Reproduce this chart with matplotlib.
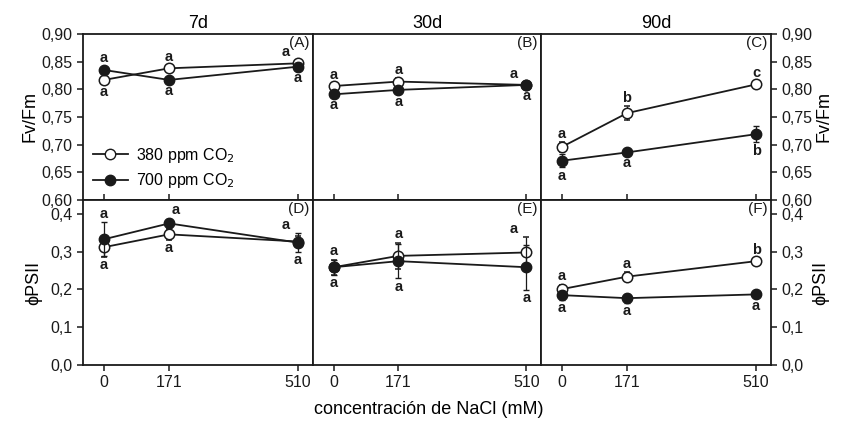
import numpy as np
import matplotlib
matplotlib.use('Agg')
import matplotlib.pyplot as plt
from matplotlib.lines import Line2D

plt.rcParams['font.family'] = ['Liberation Sans', 'DejaVu Sans']

nacl = [0, 171, 510]
titles = ['7d', '30d', '90d']

# Fv/Fm (top row)
fv_380 = [[0.817, 0.838, 0.847], [0.806, 0.814, 0.808], [0.696, 0.757, 0.809]]
fv_700 = [[0.835, 0.817, 0.841], [0.791, 0.799, 0.808], [0.671, 0.686, 0.719]]
fv_380_err = [[0.006, 0.006, 0.005], [0.005, 0.006, 0.004], [0.009, 0.012, 0.005]]
fv_700_err = [[0.006, 0.005, 0.006], [0.005, 0.006, 0.005], [0.012, 0.004, 0.015]]
fv_380_let = [['a', 'a', 'a'], ['a', 'a', 'a'], ['a', 'b', 'c']]
fv_700_let = [['a', 'a', 'a'], ['a', 'a', 'a'], ['a', 'a', 'b']]

# phiPSII (bottom row)
ph_380 = [[0.312, 0.346, 0.327], [0.259, 0.289, 0.298], [0.201, 0.234, 0.275]]
ph_700 = [[0.333, 0.375, 0.324], [0.259, 0.275, 0.259], [0.185, 0.177, 0.187]]
ph_380_err = [[0.025, 0.015, 0.015], [0.02, 0.035, 0.04], [0.012, 0.012, 0.008]]
ph_700_err = [[0.045, 0.012, 0.025], [0.02, 0.045, 0.06], [0.012, 0.012, 0.008]]
ph_380_let = [['a', 'a', 'a'], ['a', 'a', 'a'], ['a', 'a', 'b']]
ph_700_let = [['a', 'a', 'a'], ['a', 'a', 'a'], ['a', 'a', 'a']]

panel_top = ['(A)', '(B)', '(C)']
panel_bot = ['(D)', '(E)', '(F)']

fig = plt.figure(figsize=(8.45, 4.21), dpi=100)
W, H = 845., 421.
xs = [83, 313, 541]
ws = [230, 228, 230]

lc = '#1a1a1a'
fs = 11.5
lfs = 10.5


def draw(ax, y380, y700, e380, e700):
    ax.errorbar(nacl, y380, yerr=e380, color=lc, lw=1.3, marker='o', ms=7.5,
                mfc='white', mec=lc, mew=1.1, capsize=2.5, elinewidth=0.9, zorder=3)
    ax.errorbar(nacl, y700, yerr=e700, color=lc, lw=1.3, marker='o', ms=7.5,
                mfc=lc, mec=lc, capsize=2.5, elinewidth=0.9, zorder=4)


for i in range(3):
    axt = fig.add_axes([xs[i] / W, (H - 200) / H, ws[i] / W, 166 / H])
    axb = fig.add_axes([xs[i] / W, (H - 365) / H, ws[i] / W, 165 / H])

    draw(axt, fv_380[i], fv_700[i], fv_380_err[i], fv_700_err[i])
    draw(axb, ph_380[i], ph_700[i], ph_380_err[i], ph_700_err[i])

    # significance letters
    sets = [(axt, fv_380[i], fv_700[i], fv_380_err[i], fv_700_err[i], fv_380_let[i], fv_700_let[i]),
            (axb, ph_380[i], ph_700[i], ph_380_err[i], ph_700_err[i], ph_380_let[i], ph_700_let[i])]
    for ax, a, b, ea, eb, la, lb in sets:
        for k, x in enumerate(nacl):
            if i < 2:
                hi = max(a[k] + ea[k], b[k] + eb[k])
                lo = min(a[k] - ea[k], b[k] - eb[k])
                dx = -9 if k == 2 else 0
                if ax is axb and k == 1 and i == 0:
                    dx = 5
            else:
                hi = a[k] + ea[k]
                lo = b[k] - eb[k]
                dx = 0
            ax.annotate(la[k], (x, hi), xytext=(dx, 1), textcoords='offset points',
                        ha='center', va='bottom', fontsize=lfs, fontweight='bold', color=lc)
            ax.annotate(lb[k], (x, lo), xytext=(0, -1), textcoords='offset points',
                        ha='center', va='top', fontsize=lfs, fontweight='bold', color=lc)

    for ax in (axt, axb):
        ax.set_xlim(-55, 549)
        ax.set_xticks(nacl)
        for s in ax.spines.values():
            s.set_linewidth(1.3)
            s.set_color(lc)
        ax.tick_params(colors=lc, labelsize=fs, width=1.1, length=4, direction='out')

    tv = np.arange(0.60, 0.901, 0.05)
    axt.set_ylim(0.60, 0.90)
    axt.set_yticks(tv)
    axt.set_yticklabels([('%.2f' % v).replace('.', ',') for v in tv])
    bv = np.arange(0.0, 0.41, 0.1)
    axb.set_ylim(0.0, 0.437)
    axb.set_yticks(bv)
    axb.set_yticklabels([('%.1f' % v).replace('.', ',') for v in bv])

    axt.tick_params(axis='x', labelbottom=False, bottom=True)
    axb.tick_params(axis='x', top=True, labeltop=False)
    axb.set_xticklabels([str(v) for v in nacl])

    if i == 0:
        axt.set_ylabel('Fv/Fm', fontsize=13, labelpad=2)
        axb.set_ylabel('ϕPSII', fontsize=13, labelpad=6)
    elif i == 1:
        axt.tick_params(axis='y', left=False, labelleft=False)
        axb.tick_params(axis='y', left=False, labelleft=False)
    else:
        for ax in (axt, axb):
            ax.tick_params(axis='y', left=False, labelleft=False, right=True, labelright=True)
            ax.yaxis.set_label_position('right')
        axt.set_ylabel('Fv/Fm', fontsize=13, labelpad=2, rotation=90)
        axb.set_ylabel('ϕPSII', fontsize=13, labelpad=6, rotation=90)

    axt.set_title(titles[i], fontsize=13, pad=4)
    axt.text(0.985, 0.985, panel_top[i], transform=axt.transAxes, ha='right', va='top', fontsize=11, color=lc)
    axb.text(0.985, 0.985, panel_bot[i], transform=axb.transAxes, ha='right', va='top', fontsize=11, color=lc)

    if i == 0:
        h1 = Line2D([], [], color=lc, lw=1.3, marker='o', ms=7.5, mfc='white', mec=lc)
        h2 = Line2D([], [], color=lc, lw=1.3, marker='o', ms=7.5, mfc=lc, mec=lc)
        axt.legend([h1, h2], ['380 ppm CO$_2$', '700 ppm CO$_2$'], loc='lower left',
                   frameon=False, fontsize=11.5, handlelength=2.2, borderaxespad=0.2,
                   labelspacing=0.4, handletextpad=0.5)

fig.text(429 / W, 1 - 409 / H, 'concentración de NaCl (mM)', ha='center', va='center', fontsize=13)

fig.savefig('out.png', dpi=100)
